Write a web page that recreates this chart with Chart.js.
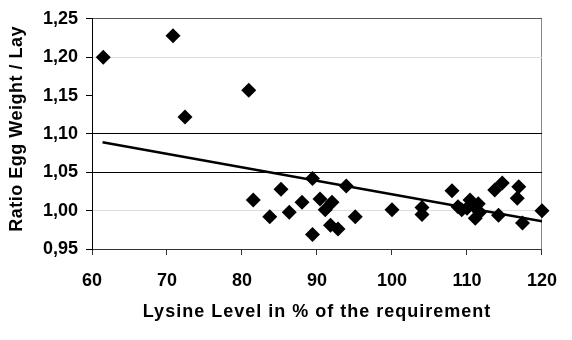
<!DOCTYPE html>
<html>
<head>
<meta charset="utf-8">
<script src="https://cdn.jsdelivr.net/npm/chart.js@4"></script>
<style>
  html, body { margin: 0; padding: 0; background: #fff; }
  #wrap { width: 572px; height: 340px; }
</style>
</head>
<body>
<div id="wrap"><canvas id="chart" width="572" height="340"></canvas></div>
<script>
// Data
const lysine = [61.5, 70.8, 72.4, 80.9, 81.5, 83.7, 85.2, 86.3, 88.0, 89.4, 89.4, 90.4, 91.1, 92.0, 91.8, 92.8, 93.9, 95.1,
    100.0, 104.0, 104.0, 108.0, 108.8, 109.3, 110.0, 110.4, 110.8, 111.5, 111.1, 111.7, 113.7, 114.7, 114.2, 116.9, 116.7, 117.4, 120.0];
const ratio = [1.200, 1.228, 1.122, 1.157, 1.014, 0.992, 1.028, 0.998, 1.011, 1.042, 0.969, 1.015, 1.001, 1.011, 0.981, 0.976, 1.032, 0.992,
    1.001, 1.004, 0.995, 1.026, 1.005, 1.001, 1.003, 1.014, 1.007, 1.009, 0.990, 0.998, 1.027, 1.036, 0.994, 1.031, 1.016, 0.984, 1.000];
const trendX = [61.4, 120];
const trendY = [1.089, 0.986];
const xTicks = [60, 70, 80, 90, 100, 110, 120];
const yTicks = [0.95, 1.00, 1.05, 1.10, 1.15, 1.20, 1.25];

const font = 'Liberation Sans, Arial, sans-serif';
const ctx = document.getElementById('chart').getContext('2d');

// grid colours per y tick (some lines are black in the original)
function yGridColor(v) {
    const k = Math.round(v * 100);
    if (k === 105 || k === 110) return '#000';
    if (k === 125) return '#555';
    if (k === 100 || k === 120) return '#ddd';
    return 'rgba(0,0,0,0)';
}

// the axis titles in the original are a little spaced out
function spaceTitle(s, spacing, dy) {
    if (s._spaced) return;
    s._spaced = true;
    const orig = s.drawTitle.bind(s);
    s.drawTitle = function () {
        const c = s.ctx;
        c.save();
        c.letterSpacing = spacing;
        c.translate(0, dy);
        orig();
        c.restore();
    };
}

new Chart(ctx, {
    data: {
        datasets: [{
            type: 'scatter',
            data: lysine.map((x, i) => ({ x: x, y: ratio[i] })),
            pointStyle: 'rectRot',
            pointRadius: 7.5,
            pointHoverRadius: 7.5,
            backgroundColor: '#000',
            borderColor: '#000',
            borderWidth: 0,
            clip: false,
            order: 1
        }, {
            type: 'line',
            data: trendX.map((x, i) => ({ x: x, y: trendY[i] })),
            borderColor: '#000',
            borderWidth: 2.5,
            pointRadius: 0,
            fill: false,
            order: 2
        }]
    },
    options: {
        responsive: false,
        animation: false,
        events: [],
        layout: { padding: { top: 17, right: 30, left: 0, bottom: 0 } },
        plugins: { legend: { display: false }, tooltip: { enabled: false } },
        scales: {
            x: {
                type: 'linear',
                min: 60,
                max: 120,
                afterBuildTicks: s => { s.ticks = xTicks.map(v => ({ value: v })); },
                afterFit: s => { s.height = 91; spaceTitle(s, '1px', 0); },
                border: { color: '#333', width: 1 },
                grid: {
                    color: c => (c.tick && c.tick.value === 120) ? '#888' : 'rgba(0,0,0,0)',
                    tickColor: '#333',
                    tickLength: 6
                },
                ticks: {
                    color: '#000',
                    font: { family: font, size: 18, weight: 'bold' },
                    padding: 15,
                    maxRotation: 0
                },
                title: {
                    display: true,
                    text: 'Lysine Level in % of the requirement',
                    color: '#000',
                    font: { family: font, size: 18, weight: 'bold' },
                    padding: { top: 0, bottom: 17 }
                }
            },
            y: {
                type: 'linear',
                min: 0.95,
                max: 1.25,
                afterBuildTicks: s => { s.ticks = yTicks.map(v => ({ value: v })); },
                afterFit: s => { s.width = 92; spaceTitle(s, '0.5px', -5); },
                border: { color: '#000', width: 1 },
                grid: {
                    color: c => c.tick ? yGridColor(c.tick.value) : 'rgba(0,0,0,0)',
                    tickColor: '#000',
                    tickLength: 6
                },
                ticks: {
                    color: '#000',
                    font: { family: font, size: 18, weight: 'bold' },
                    padding: 8,
                    callback: v => v.toFixed(2).replace('.', ',')
                },
                title: {
                    display: true,
                    text: 'Ratio Egg Weight / Lay',
                    color: '#000',
                    font: { family: font, size: 18, weight: 'bold' },
                    padding: { top: 6, bottom: 0 }
                }
            }
        }
    }
});
</script>
</body>
</html>
